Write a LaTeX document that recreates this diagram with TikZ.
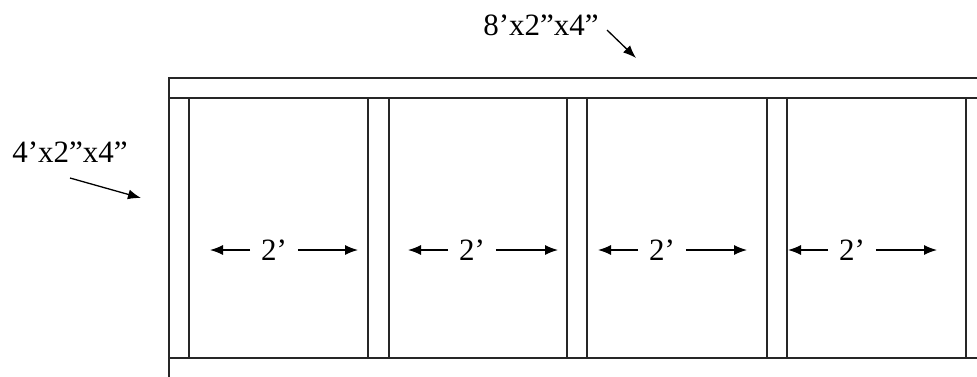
\documentclass[tikz,border=0pt]{standalone}
\usepackage{fontspec}
\setmainfont{Liberation Serif}
\usetikzlibrary{arrows.meta}

\begin{document}
\begin{tikzpicture}[x=1pt,y=-1pt,line width=1.3pt,
  lumber/.style={draw=black!85,line width=1.4pt},
  lbl/.style={font=\fontsize{31}{36}\selectfont,inner sep=0pt},
  dim/.style={font=\fontsize{31}{36}\selectfont,inner xsep=11pt,inner ysep=0pt,outer sep=0pt},
  ->,>={Latex[length=13pt,width=10pt]}]

\useasboundingbox (0,0) rectangle (977,376);
\clip (0,0) rectangle (977,376);

% plates
\draw[lumber,-] (169,78) rectangle (990,98);
\draw[lumber,-] (169,358) rectangle (990,390);

% studs
\draw[lumber,-] (169,98) rectangle (189,358);
\draw[lumber,-] (368,98) rectangle (389,358);
\draw[lumber,-] (567,98) rectangle (587,358);
\draw[lumber,-] (767,98) rectangle (787,358);
\draw[lumber,-] (966,98) rectangle (986,358);

% lumber sizes
\node[lbl] (plate) at (541,25) {8’x2”x4”};
\coordinate (plateTail) at (607,30);
\coordinate (plateTip) at (636,58);
\draw (plateTail) -- (plateTip);

\node[lbl] (stud) at (70,152) {4’x2”x4”};
\coordinate (studTail) at (70,178);
\coordinate (studTip) at (141,198);
\draw (studTail) -- (studTip);

% spacing
\node[dim] (w1) at (274,250) {2’};
\coordinate (w1l) at (210,250);
\coordinate (w1r) at (358,250);
\draw (w1) -- (w1l);
\draw (w1) -- (w1r);

\node[dim] (w2) at (472,250) {2’};
\coordinate (w2l) at (408,250);
\coordinate (w2r) at (558,250);
\draw (w2) -- (w2l);
\draw (w2) -- (w2r);

\node[dim] (w3) at (662,250) {2’};
\coordinate (w3l) at (598,250);
\coordinate (w3r) at (747,250);
\draw (w3) -- (w3l);
\draw (w3) -- (w3r);

\node[dim] (w4) at (852,250) {2’};
\coordinate (w4l) at (788,250);
\coordinate (w4r) at (937,250);
\draw (w4) -- (w4l);
\draw (w4) -- (w4r);

\end{tikzpicture}
\end{document}
